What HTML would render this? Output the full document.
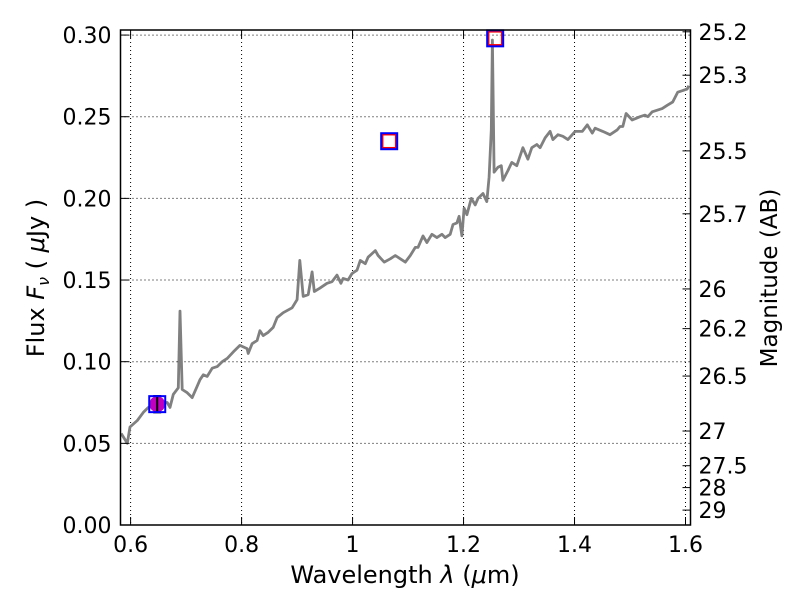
<!DOCTYPE html>
<html><head><meta charset="utf-8"><style>
body{margin:0;background:#fff;}
svg text{font-family:"DejaVu Sans","Liberation Sans",sans-serif;fill:#000;}
</style></head><body>
<svg id="chart" width="800" height="600" xmlns="http://www.w3.org/2000/svg">
<rect width="800" height="600" fill="#fff"/>
<g id="grid"></g>
<g id="plot"></g>
<g id="axes"></g>
<text x="405" y="583" font-size="24" text-anchor="middle">Wavelength  <tspan font-style="italic">λ</tspan> (<tspan font-style="italic">μ</tspan>m)</text>
<text transform="translate(44,278) rotate(-90)" font-size="24" text-anchor="middle">Flux  <tspan font-style="italic">F</tspan><tspan font-style="italic" font-size="16" dy="5">ν</tspan><tspan dy="-5">  ( </tspan><tspan font-style="italic">μ</tspan>Jy )</text>
<text transform="translate(777,278) rotate(-90)" font-size="23" text-anchor="middle">Magnitude (AB)</text>
</svg>
<script>
const specWave=[0.583,0.594,0.599,0.612,0.623,0.632,0.641,0.653,0.666,0.671,0.677,0.686,0.689,0.693,0.702,0.711,0.720,0.725,0.731,0.738,0.747,0.756,0.765,0.774,0.785,0.797,0.810,0.812,0.819,0.828,0.833,0.839,0.848,0.857,0.864,0.875,0.891,0.900,0.905,0.911,0.920,0.927,0.931,0.941,0.954,0.963,0.972,0.979,0.983,0.992,0.999,1.008,1.014,1.023,1.028,1.041,1.046,1.057,1.068,1.077,1.086,1.095,1.104,1.113,1.118,1.127,1.134,1.143,1.152,1.161,1.167,1.176,1.181,1.188,1.192,1.197,1.201,1.206,1.214,1.221,1.226,1.235,1.242,1.246,1.250,1.252,1.255,1.262,1.268,1.271,1.280,1.287,1.296,1.307,1.316,1.323,1.332,1.338,1.347,1.356,1.361,1.370,1.379,1.388,1.401,1.414,1.423,1.432,1.437,1.451,1.464,1.477,1.482,1.487,1.493,1.504,1.518,1.527,1.532,1.540,1.549,1.558,1.567,1.577,1.586,1.595,1.603,1.606];
const specFlux=[0.056,0.050,0.060,0.064,0.069,0.072,0.073,0.075,0.075,0.072,0.080,0.084,0.131,0.083,0.081,0.078,0.085,0.089,0.092,0.091,0.096,0.097,0.100,0.102,0.106,0.110,0.108,0.105,0.111,0.113,0.119,0.116,0.118,0.121,0.127,0.130,0.133,0.138,0.162,0.140,0.141,0.155,0.143,0.145,0.148,0.149,0.153,0.148,0.151,0.150,0.154,0.156,0.162,0.160,0.164,0.168,0.165,0.161,0.163,0.165,0.163,0.161,0.165,0.170,0.170,0.177,0.173,0.178,0.176,0.178,0.176,0.178,0.184,0.185,0.189,0.177,0.194,0.190,0.200,0.196,0.200,0.203,0.198,0.213,0.242,0.297,0.216,0.219,0.220,0.211,0.217,0.222,0.220,0.231,0.224,0.231,0.233,0.231,0.237,0.241,0.236,0.239,0.238,0.236,0.241,0.241,0.245,0.240,0.243,0.241,0.239,0.242,0.244,0.244,0.252,0.248,0.250,0.251,0.250,0.253,0.254,0.255,0.257,0.259,0.265,0.266,0.267,0.269];
const photWave=[0.648,1.066,1.257];
const photFlux=[0.074,0.235,0.298];
const modelWave=[1.066,1.257];
const modelFlux=[0.235,0.298];
const obsWave=[0.648];
const obsFlux=[0.074];
const obsErr=[0.005];
const xTicks=[0.6,0.8,1.0,1.2,1.4,1.6];
const xTickLabels=["0.6","0.8","1","1.2","1.4","1.6"];
const yTicks=[0,0.05,0.10,0.15,0.20,0.25,0.30];
const yTickLabels=["0.00","0.05","0.10","0.15","0.20","0.25","0.30"];
const magTicks=[25.2,25.3,25.5,25.7,26,26.2,26.5,27,27.5,28,29];
const magTickLabels=["25.2","25.3","25.5","25.7","26","26.2","26.5","27","27.5","28","29"];

const L=120.5,R=690.5,T=30,B=525;
const X0=0.5818,X1=1.6090,Y0=0,Y1=0.3031;
const sx=v=>L+(v-X0)/(X1-X0)*(R-L);
const sy=v=>B-(v-Y0)/(Y1-Y0)*(B-T);
const NS="http://www.w3.org/2000/svg";
function mk(tag,parent,attrs){const e=document.createElementNS(NS,tag);for(const k in attrs)e.setAttribute(k,attrs[k]);parent.appendChild(e);return e;}
const grid=document.getElementById('grid'),plot=document.getElementById('plot'),axes=document.getElementById('axes');

xTicks.forEach((v,i)=>{
  const g=mk('line',grid,{x1:sx(v),x2:sx(v),y1:T,y2:B,stroke:'#000','stroke-width':1,'stroke-dasharray':'1,3'});
  
  
  const t1=mk('line',axes,{x1:sx(v),x2:sx(v),y1:B,y2:B-8,stroke:'#000','stroke-width':1});
  
  
  const t2=mk('line',axes,{x1:sx(v),x2:sx(v),y1:T,y2:T+8,stroke:'#000','stroke-width':1});
  
  
  const tx=mk('text',axes,{x:sx(v),y:B+27,'font-size':22,'text-anchor':'middle'});
  tx.textContent=xTickLabels[i];
  
  
});
yTicks.forEach((v,i)=>{
  const g=mk('line',grid,{x1:L,x2:R,y1:sy(v),y2:sy(v),stroke:'#000','stroke-width':1,'stroke-dasharray':'1,3'});
  
  
  const t=mk('line',axes,{x1:L,x2:L+8,y1:sy(v),y2:sy(v),stroke:'#000','stroke-width':1});
  
  
  const tx=mk('text',axes,{x:L-9,y:sy(v)+8,'font-size':22,'text-anchor':'end'});
  tx.textContent=yTickLabels[i];
  
  
});
magTicks.forEach((m,i)=>{
  const f=Math.pow(10,(23.9-m)/2.5);
  const t=mk('line',axes,{x1:R,x2:R-8,y1:sy(f),y2:sy(f),stroke:'#000','stroke-width':1});
  
  
  const tx=mk('text',axes,{x:R+8,y:sy(f)+8,'font-size':22,'text-anchor':'start'});
  tx.textContent=magTickLabels[i];
  
  
});

const cp=mk('clipPath',plot,{id:'clip'});
mk('rect',cp,{x:L,y:T,width:R-L,height:B-T});
const d=specWave.map((w,i)=>(i?'L':'M')+sx(w).toFixed(1)+','+sy(specFlux[i]).toFixed(1)).join('');
const sp=mk('path',plot,{d:d,fill:'none',stroke:'#808080','stroke-width':2.8,'stroke-linejoin':'round','clip-path':'url(#clip)'});



obsWave.forEach((w,i)=>{
  const c=mk('circle',plot,{cx:sx(w),cy:sy(obsFlux[i]),r:8,fill:'#bf00bf'});
  
  
  const y1=sy(obsFlux[i]+obsErr[i]),y2=sy(obsFlux[i]-obsErr[i]);
  const e=mk('path',plot,{d:`M${sx(w)},${y1}L${sx(w)},${y2}M${sx(w)-4},${y1}L${sx(w)+4},${y1}M${sx(w)-4},${y2}L${sx(w)+4},${y2}`,stroke:'#000','stroke-width':2,fill:'none'});
  
  
});
modelWave.forEach((w,i)=>{
  const r=mk('rect',plot,{x:sx(w)-6.5,y:sy(modelFlux[i])-6.5,width:13,height:13,fill:'none',stroke:'#f00','stroke-width':1.5});
  
  
});
photWave.forEach((w,i)=>{
  const r=mk('rect',plot,{x:sx(w)-8,y:sy(photFlux[i])-8,width:16,height:16,fill:'none',stroke:'#00f','stroke-width':2});
  
  
});
const fr=mk('rect',axes,{x:L,y:T,width:R-L,height:B-T,fill:'none',stroke:'#000','stroke-width':1.5});


</script>
</body></html>
